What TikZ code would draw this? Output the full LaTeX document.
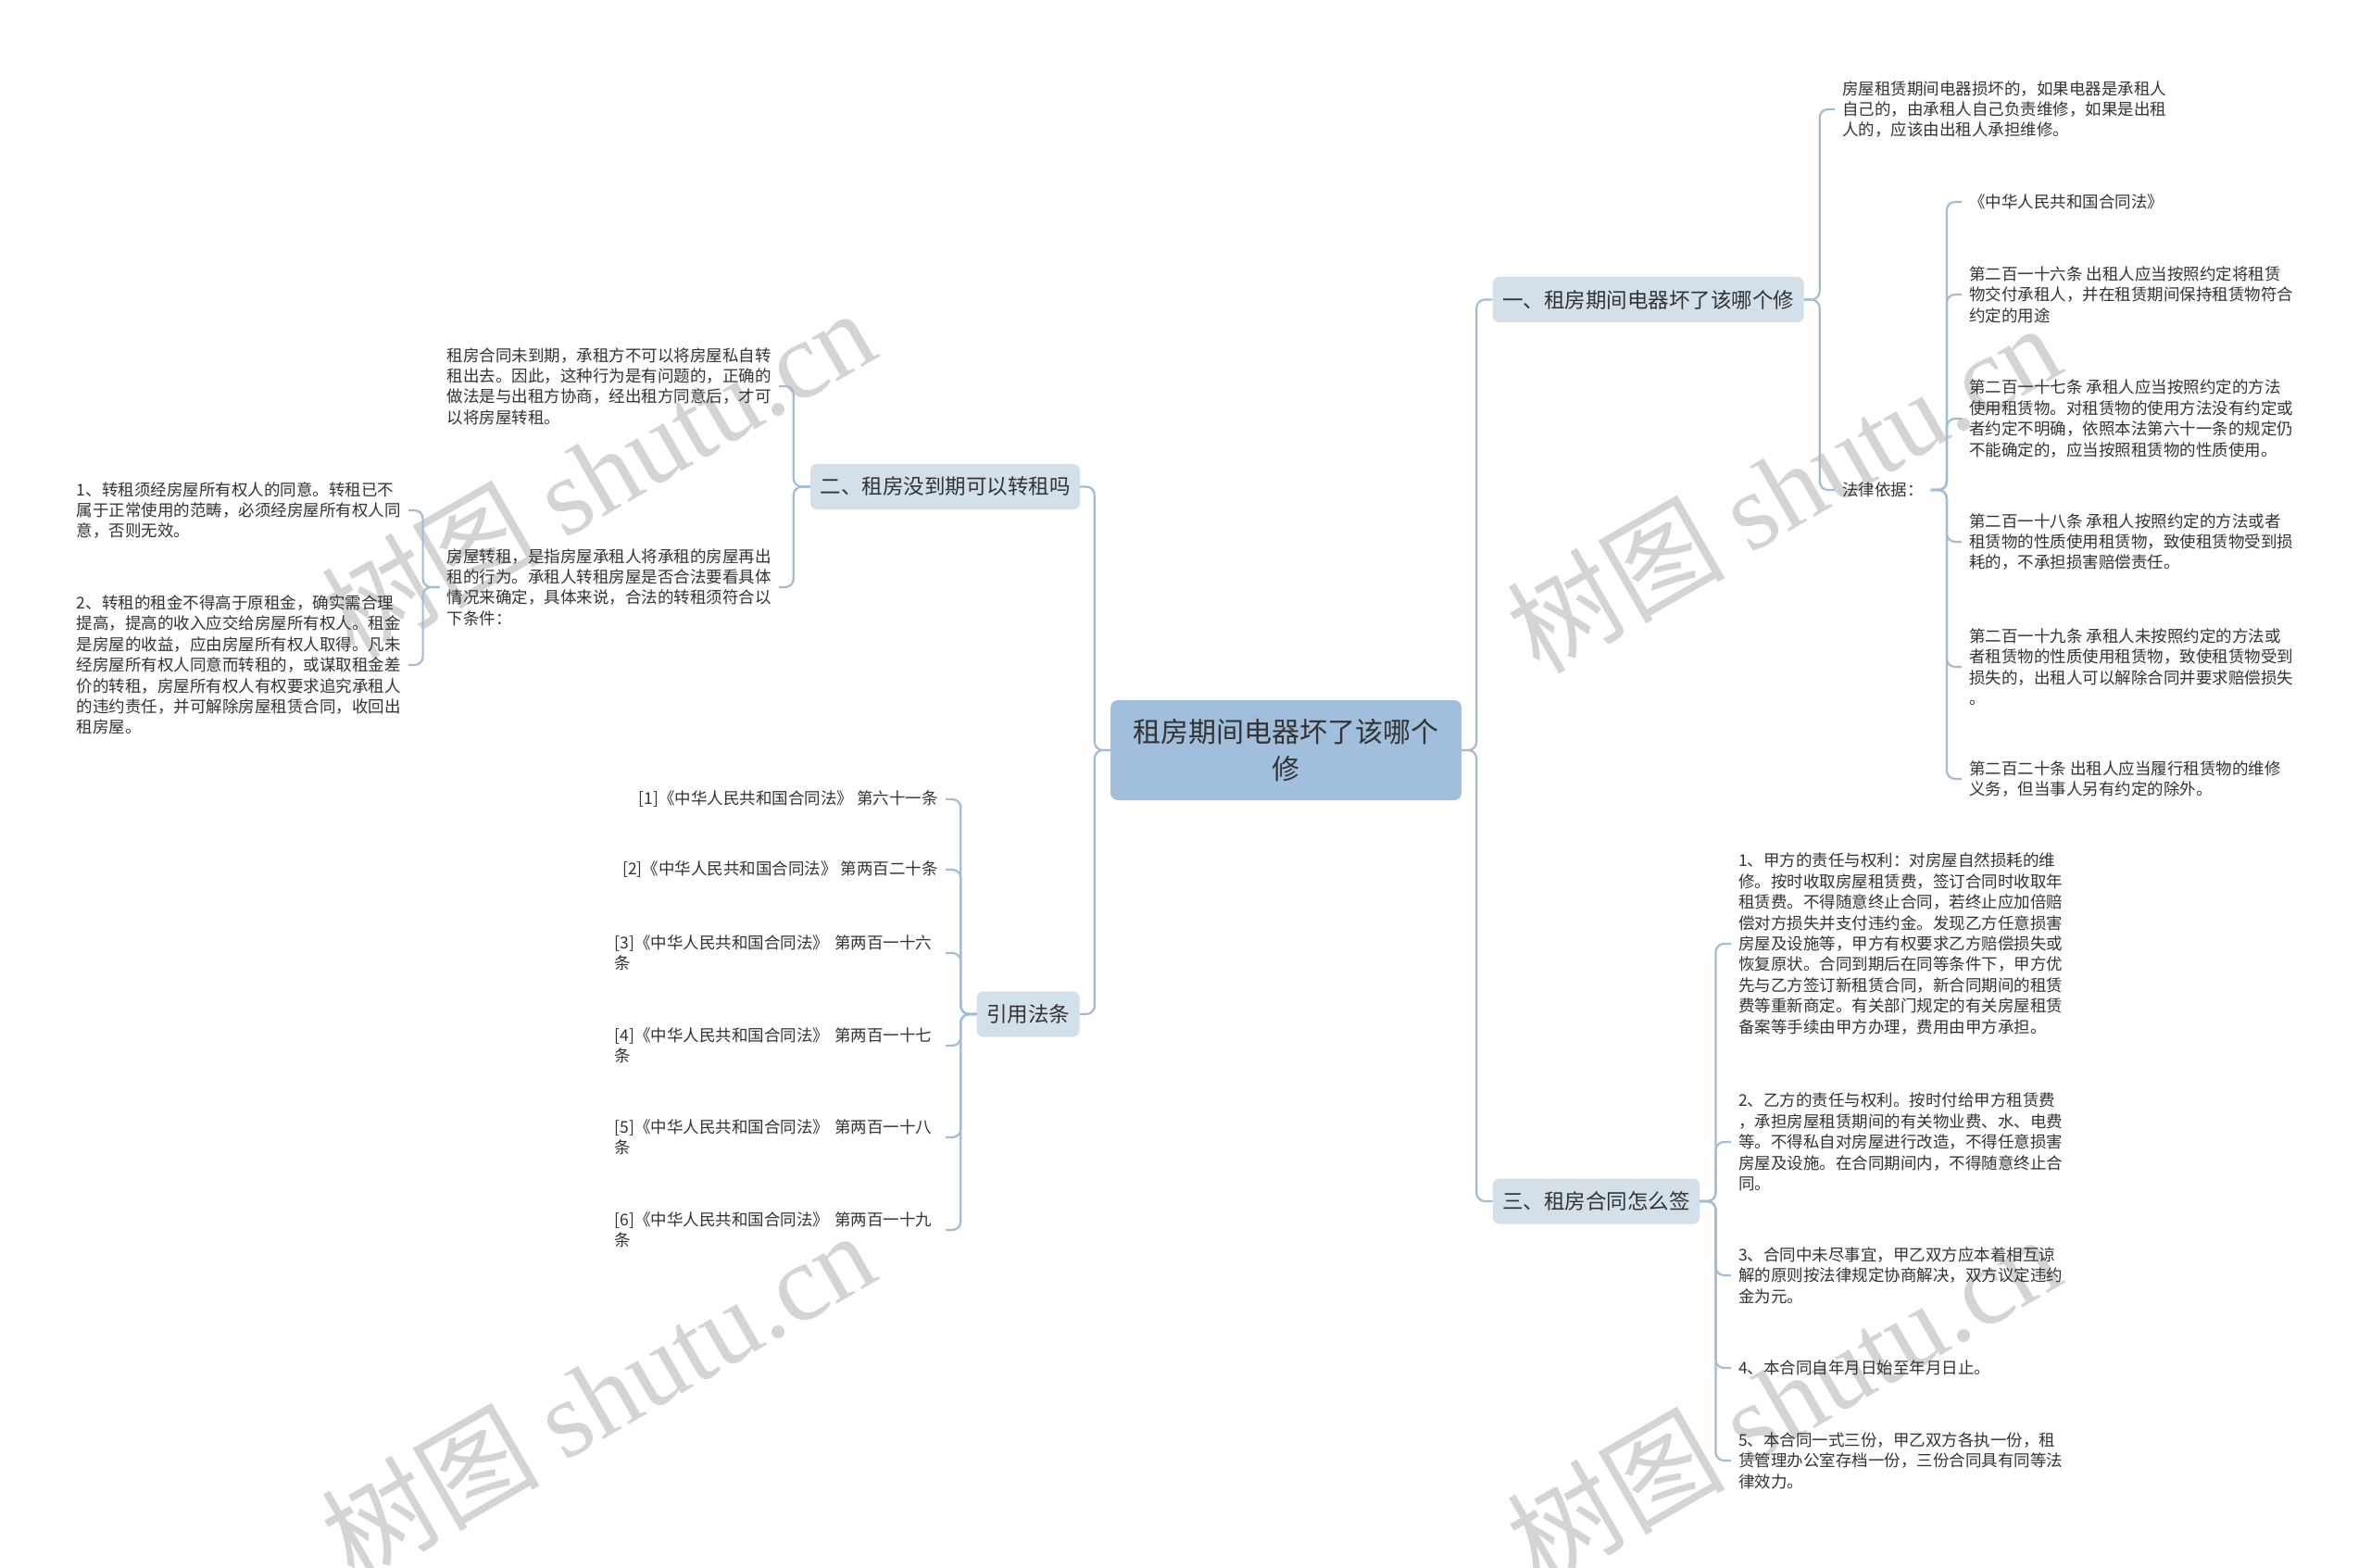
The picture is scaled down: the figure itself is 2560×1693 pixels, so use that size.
\documentclass[tikz,border=0pt]{standalone}
\usepackage{fontspec}
\setmainfont{Noto Sans CJK SC}
\newfontfamily\wmserif{Liberation Serif}
\definecolor{lineblue}{HTML}{A3BBD3}
\definecolor{centerfill}{HTML}{A1BFDC}
\definecolor{branchfill}{HTML}{D3DFE9}
\definecolor{txtgray}{HTML}{333333}
\definecolor{wmgray}{HTML}{D4D4D4}
\tikzset{
  conn/.style={draw=lineblue, line width=2.2pt, rounded corners=9pt},
  rootbox/.style={rectangle, rounded corners=8pt, fill=centerfill, minimum width=379pt, minimum height=108pt, inner sep=0pt, align=center, text=txtgray, font=\fontsize{30}{40}\selectfont},
  branchbox/.style={rectangle, rounded corners=7pt, fill=branchfill, inner xsep=10.5pt, inner ysep=0pt, minimum height=49pt, text=txtgray, font=\fontsize{22.5}{28}\selectfont},
  txt/.style={align=left, inner xsep=8pt, inner ysep=2pt, text=txtgray, font=\fontsize{17.5}{22.4}\selectfont},
  wm/.style={text=wmgray, font=\fontsize{118}{118}\selectfont, inner sep=0pt, rotate=30}
}
\begin{document}
\begin{tikzpicture}[x=1pt,y=-1pt]
\useasboundingbox (0,0) rectangle (2560,1693);
\fill[white] (0,0) rectangle (2560,1693);

% watermarks
\node[wm] (wm1) at (645,510) {树图 {\wmserif shutu.cn}};
\node[wm] (wm2) at (1925,526) {树图 {\wmserif shutu.cn}};
\node[wm] (wm3) at (645,1506) {树图 {\wmserif shutu.cn}};
\node[wm] (wm4) at (1925,1510) {树图 {\wmserif shutu.cn}};

% root and branches
\node[rootbox] (c) at (1388.5,810) {租房期间电器坏了该哪个\\修};
\node[branchbox] (b1) at (1779.5,323.5) {一、租房期间电器坏了该哪个修};
\node[branchbox] (b2) at (1020.5,525.5) {二、租房没到期可以转租吗};
\node[branchbox] (cite) at (1110,1095) {引用法条};
\node[branchbox] (b3) at (1723.5,1297) {三、租房合同怎么签};

% branch 1 children
\node[txt, anchor=west] (r1) at (1981,118) {房屋租赁期间电器损坏的，如果电器是承租人\\自己的，由承租人自己负责维修，如果是出租\\人的，应该由出租人承担维修。};
\node[txt, anchor=west] (r2) at (1981,529) {法律依据：};

\node[txt, anchor=west] (law0) at (2118,218) {《中华人民共和国合同法》};
\node[txt, anchor=west] (law1) at (2118,318) {第二百一十六条 出租人应当按照约定将租赁\\物交付承租人，并在租赁期间保持租赁物符合\\约定的用途};
\node[txt, anchor=west] (law2) at (2118,452) {第二百一十七条 承租人应当按照约定的方法\\使用租赁物。对租赁物的使用方法没有约定或\\者约定不明确，依照本法第六十一条的规定仍\\不能确定的，应当按照租赁物的性质使用。};
\node[txt, anchor=west] (law3) at (2118,585) {第二百一十八条 承租人按照约定的方法或者\\租赁物的性质使用租赁物，致使租赁物受到损\\耗的，不承担损害赔偿责任。};
\node[txt, anchor=west] (law4) at (2118,720) {第二百一十九条 承租人未按照约定的方法或\\者租赁物的性质使用租赁物，致使租赁物受到\\损失的，出租人可以解除合同并要求赔偿损失\\。};
\node[txt, anchor=west] (law5) at (2118,841) {第二百二十条 出租人应当履行租赁物的维修\\义务，但当事人另有约定的除外。};

% branch 3 children
\node[txt, anchor=west] (t1) at (1869,1019) {1、甲方的责任与权利：对房屋自然损耗的维\\修。按时收取房屋租赁费，签订合同时收取年\\租赁费。不得随意终止合同，若终止应加倍赔\\偿对方损失并支付违约金。发现乙方任意损害\\房屋及设施等，甲方有权要求乙方赔偿损失或\\恢复原状。合同到期后在同等条件下，甲方优\\先与乙方签订新租赁合同，新合同期间的租赁\\费等重新商定。有关部门规定的有关房屋租赁\\备案等手续由甲方办理，费用由甲方承担。};
\node[txt, anchor=west] (t2) at (1869,1233) {2、乙方的责任与权利。按时付给甲方租赁费\\，承担房屋租赁期间的有关物业费、水、电费\\等。不得私自对房屋进行改造，不得任意损害\\房屋及设施。在合同期间内，不得随意终止合\\同。};
\node[txt, anchor=west] (t3) at (1869,1377) {3、合同中未尽事宜，甲乙双方应本着相互谅\\解的原则按法律规定协商解决，双方议定违约\\金为元。};
\node[txt, anchor=west] (t4) at (1869,1477) {4、本合同自年月日始至年月日止。};
\node[txt, anchor=west] (t5) at (1869,1577) {5、本合同一式三份，甲乙双方各执一份，租\\赁管理办公室存档一份，三份合同具有同等法\\律效力。};

% branch 2 children
\node[txt, anchor=east] (L1) at (841,417) {租房合同未到期，承租方不可以将房屋私自转\\租出去。因此，这种行为是有问题的，正确的\\做法是与出租方协商，经出租方同意后，才可\\以将房屋转租。};
\node[txt, anchor=east] (L2) at (841,634) {房屋转租，是指房屋承租人将承租的房屋再出\\租的行为。承租人转租房屋是否合法要看具体\\情况来确定，具体来说，合法的转租须符合以\\下条件：};
\node[txt, anchor=east] (LL1) at (441,551) {1、转租须经房屋所有权人的同意。转租已不\\属于正常使用的范畴，必须经房屋所有权人同\\意，否则无效。};
\node[txt, anchor=east] (LL2) at (441,718) {2、转租的租金不得高于原租金，确实需合理\\提高，提高的收入应交给房屋所有权人。租金\\是房屋的收益，应由房屋所有权人取得。凡未\\经房屋所有权人同意而转租的，或谋取租金差\\价的转租，房屋所有权人有权要求追究承租人\\的违约责任，并可解除房屋租赁合同，收回出\\租房屋。};

% citations
\node[txt, anchor=east] (ci1) at (1021,863) {[1]《中华人民共和国合同法》 第六十一条};
\node[txt, anchor=east] (ci2) at (1021,939) {[2]《中华人民共和国合同法》 第两百二十条};
\node[txt, anchor=east, text width=349pt] (ci3) at (1021,1029) {[3]《中华人民共和国合同法》 第两百一十六\\条};
\node[txt, anchor=east, text width=349pt] (ci4) at (1021,1129) {[4]《中华人民共和国合同法》 第两百一十七\\条};
\node[txt, anchor=east, text width=349pt] (ci5) at (1021,1228) {[5]《中华人民共和国合同法》 第两百一十八\\条};
\node[txt, anchor=east, text width=349pt] (ci6) at (1021,1328) {[6]《中华人民共和国合同法》 第两百一十九\\条};

% connectors
\draw[conn] (c.east) -- ++(16,0) |- (b1.west);
\draw[conn] (c.east) -- ++(16,0) |- (b3.west);
\draw[conn] (c.west) -- ++(-17,0) |- (b2.east);
\draw[conn] (c.west) -- ++(-17,0) |- (cite.east);

\draw[conn] (b1.east) -- ++(17,0) |- (r1.west);
\draw[conn] (b1.east) -- ++(17,0) |- (r2.west);
\foreach \n in {law0,law1,law2,law3,law4,law5}
  \draw[conn] (r2.east) -- ++(17,0) |- (\n.west);

\foreach \n in {t1,t2,t3,t4,t5}
  \draw[conn] (b3.east) -- ++(17,0) |- (\n.west);

\draw[conn] (b2.west) -- ++(-18,0) |- (L1.east);
\draw[conn] (b2.west) -- ++(-18,0) |- (L2.east);
\draw[conn] (L2.west) -- ++(-18,0) |- (LL1.east);
\draw[conn] (L2.west) -- ++(-18,0) |- (LL2.east);

\foreach \n in {ci1,ci2,ci3,ci4,ci5,ci6}
  \draw[conn] (cite.west) -- ++(-17,0) |- (\n.east);
\end{tikzpicture}
\end{document}
